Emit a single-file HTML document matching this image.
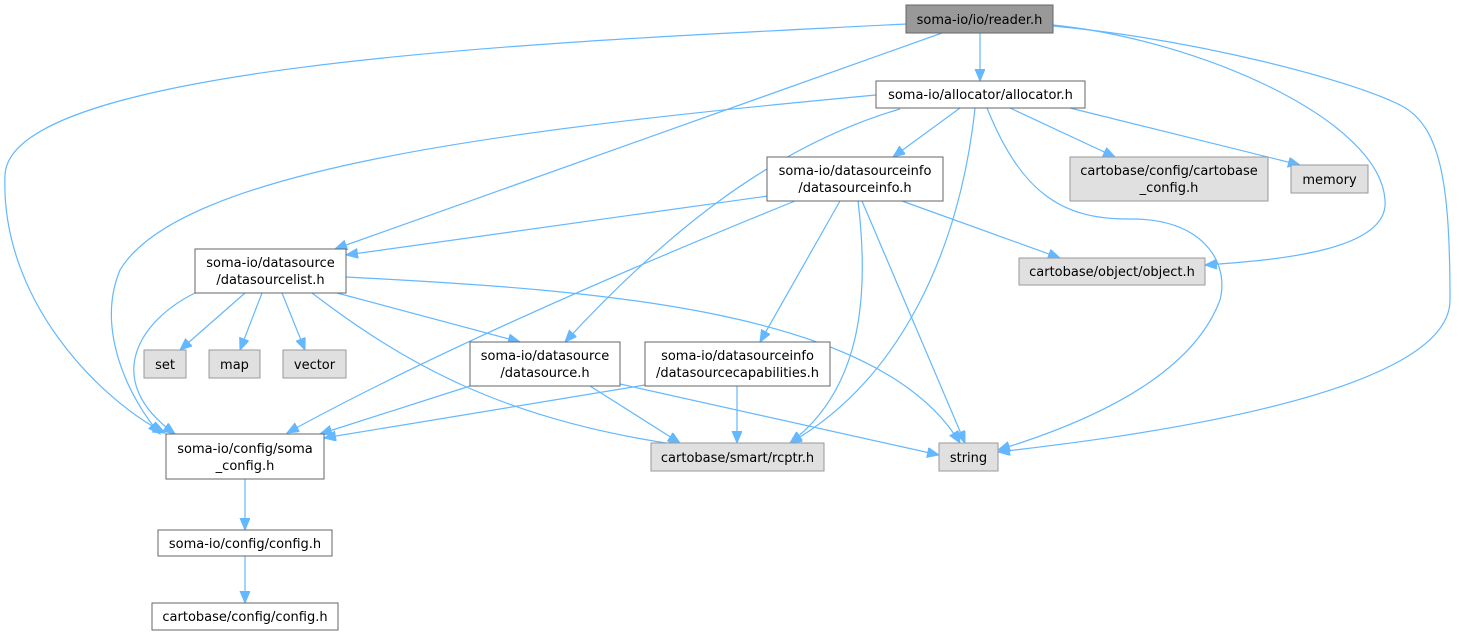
<!DOCTYPE html>
<html><head><meta charset="utf-8"><style>
html,body{margin:0;padding:0;background:#fff;width:1459px;height:636px;overflow:hidden}
svg{display:block}
text{font-family:"DejaVu Sans","Liberation Sans",sans-serif;font-size:13px;fill:#000}
.w{fill:#fff;stroke:#666;stroke-width:1}
.g{fill:#e0e0e0;stroke:#999;stroke-width:1}
.e{fill:none;stroke:#63b8ff;stroke-width:1.2}
</style></head><body>
<svg width="1459" height="636" viewBox="0 0 1459 636">
<defs><marker id="a" markerUnits="userSpaceOnUse" markerWidth="14" markerHeight="12" refX="12" refY="5" orient="auto"><path d="M0,0 L12,5 L0,10 z" fill="#63b8ff" stroke="#63b8ff"/></marker></defs>
<g marker-end="url(#a)">
<path class="e" d="M980,33 L980,81"/>
<path class="e" d="M942,33 L335,249"/>
<path class="e" d="M906,24 C600,40 10,60 5,175 C0,300 100,400 165,433"/>
<path class="e" d="M1053,25 C1200,40 1380,120 1385,200 C1390,250 1280,260 1205,265"/>
<path class="e" d="M1053,26 C1200,40 1350,80 1400,105 C1440,125 1450,180 1450,300 C1450,400 1100,440 998,452"/>
<path class="e" d="M960,108 L893,157"/>
<path class="e" d="M1010,108 L1115,157"/>
<path class="e" d="M1070,108 L1300,165"/>
<path class="e" d="M975,108 C960,250 900,380 790,443"/>
<path class="e" d="M987,108 C1020,190 1060,220 1130,219 C1200,218 1230,260 1220,300 C1190,380 1080,425 998,450"/>
<path class="e" d="M876,95 C500,130 180,170 120,270 C95,330 130,400 160,434"/>
<path class="e" d="M900,109 C760,150 650,250 565,342"/>
<path class="e" d="M768,196 L346,255"/>
<path class="e" d="M795,201 C600,280 420,360 287,433"/>
<path class="e" d="M840,201 L760,342"/>
<path class="e" d="M858,201 C870,300 860,390 790,443"/>
<path class="e" d="M862,201 L965,443"/>
<path class="e" d="M902,201 L1060,258"/>
<path class="e" d="M245,293 L180,350"/>
<path class="e" d="M262,293 L240,350"/>
<path class="e" d="M282,293 L305,350"/>
<path class="e" d="M337,293 L520,342"/>
<path class="e" d="M312,293 C400,360 500,420 680,445"/>
<path class="e" d="M346,277 C600,290 880,310 960,443"/>
<path class="e" d="M195,293 C140,320 100,380 175,434"/>
<path class="e" d="M470,386 L320,434"/>
<path class="e" d="M590,386 L680,443"/>
<path class="e" d="M620,384 L939,455"/>
<path class="e" d="M645,385 L324,438"/>
<path class="e" d="M737,386 L737,443"/>
<path class="e" d="M245,479 L245,530"/>
<path class="e" d="M245,556 L245,603"/>
</g>
<rect x="906" y="5" width="147" height="28" fill="#999" stroke="#666"/><text x="979.5" y="24" text-anchor="middle">soma-io/io/reader.h</text>
<rect class="w" x="876" y="81" width="209" height="27"/><text x="980.5" y="99" text-anchor="middle">soma-io/allocator/allocator.h</text>
<rect class="w" x="767" y="157" width="176" height="44"/><text x="855" y="175" text-anchor="middle">soma-io/datasourceinfo</text><text x="855" y="192" text-anchor="middle">/datasourceinfo.h</text>
<rect class="g" x="1070" y="157" width="198" height="44"/><text x="1169" y="175" text-anchor="middle">cartobase/config/cartobase</text><text x="1169" y="192" text-anchor="middle">_config.h</text>
<rect class="g" x="1291" y="165" width="77" height="28"/><text x="1329.5" y="184" text-anchor="middle">memory</text>
<rect class="g" x="1019" y="258" width="186" height="27"/><text x="1112" y="276" text-anchor="middle">cartobase/object/object.h</text>
<rect class="w" x="195" y="249" width="151" height="44"/><text x="270.5" y="267" text-anchor="middle">soma-io/datasource</text><text x="270.5" y="284" text-anchor="middle">/datasourcelist.h</text>
<rect class="g" x="144" y="350" width="42" height="28"/><text x="165" y="369" text-anchor="middle">set</text>
<rect class="g" x="209" y="350" width="51" height="28"/><text x="234.5" y="369" text-anchor="middle">map</text>
<rect class="g" x="283" y="350" width="63" height="28"/><text x="314.5" y="369" text-anchor="middle">vector</text>
<rect class="w" x="470" y="342" width="150" height="44"/><text x="545" y="360" text-anchor="middle">soma-io/datasource</text><text x="545" y="377" text-anchor="middle">/datasource.h</text>
<rect class="w" x="645" y="342" width="185" height="44"/><text x="737.5" y="360" text-anchor="middle">soma-io/datasourceinfo</text><text x="737.5" y="377" text-anchor="middle">/datasourcecapabilities.h</text>
<rect class="w" x="166" y="434" width="158" height="45"/><text x="245" y="453" text-anchor="middle">soma-io/config/soma</text><text x="245" y="470" text-anchor="middle">_config.h</text>
<rect class="g" x="651" y="443" width="173" height="28"/><text x="737.5" y="462" text-anchor="middle">cartobase/smart/rcptr.h</text>
<rect class="g" x="939" y="443" width="59" height="28"/><text x="968.5" y="462" text-anchor="middle">string</text>
<rect class="w" x="158" y="530" width="174" height="26"/><text x="245" y="548" text-anchor="middle">soma-io/config/config.h</text>
<rect class="w" x="152" y="603" width="186" height="27"/><text x="245" y="621" text-anchor="middle">cartobase/config/config.h</text>
</svg>
</body></html>
